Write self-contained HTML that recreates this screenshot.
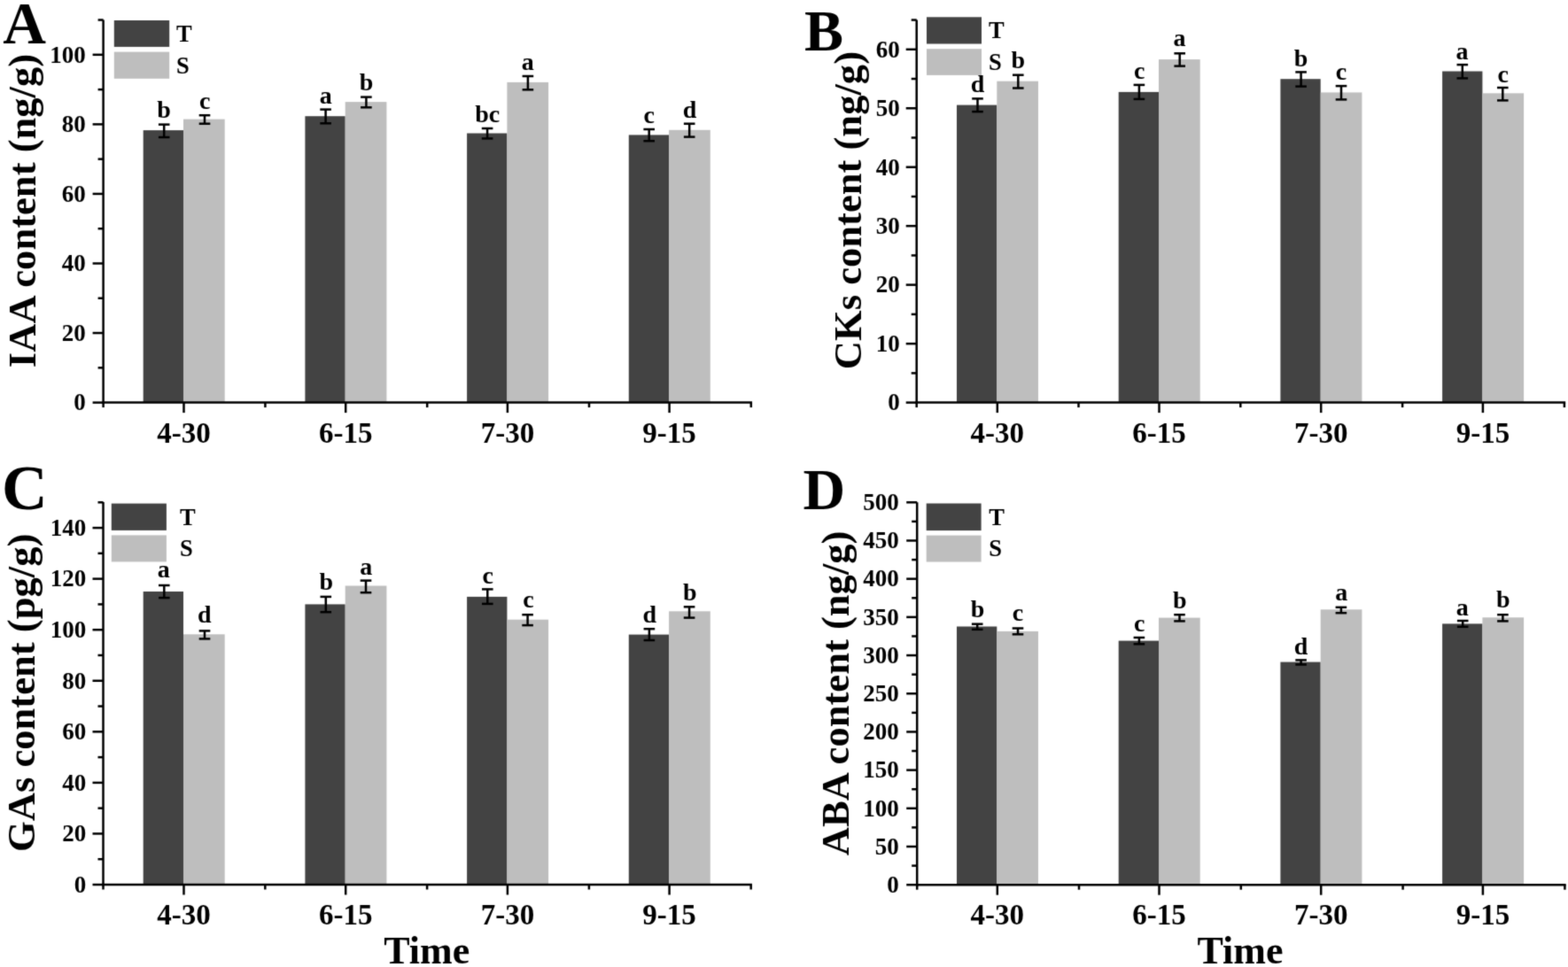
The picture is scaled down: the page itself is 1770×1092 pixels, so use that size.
<!DOCTYPE html><html><head><meta charset="utf-8"><title>Hormone content</title><style>html,body{margin:0;padding:0;background:#fff;overflow:hidden;width:1770px;height:1092px;}svg{display:block;}text{font-family:'Liberation Serif', serif;font-weight:bold;fill:#000;}</style></head><body>
<svg width="1770" height="1092" viewBox="0 0 1770 1092">
<defs><filter id="soft" x="0" y="0" width="1770" height="1092" filterUnits="userSpaceOnUse" color-interpolation-filters="sRGB"><feConvolveMatrix order="3" kernelMatrix="0.01917 0.10012 0.01917 0.10012 0.52283 0.10012 0.01917 0.10012 0.01917" edgeMode="duplicate"/></filter></defs>
<g filter="url(#soft)">
<rect width="1770" height="1092" fill="#fff"/>
<rect x="161.7" y="147.1" width="45.3" height="307.5" fill="#434343"/>
<rect x="207" y="134.6" width="46.7" height="320" fill="#bebebe"/>
<rect x="344.4" y="131.2" width="45.3" height="323.4" fill="#434343"/>
<rect x="389.7" y="115.1" width="46.7" height="339.5" fill="#bebebe"/>
<rect x="527.1" y="150.5" width="45.3" height="304.1" fill="#434343"/>
<rect x="572.4" y="92.9" width="46.7" height="361.7" fill="#bebebe"/>
<rect x="709.8" y="152.4" width="45.3" height="302.2" fill="#434343"/>
<rect x="755.1" y="146.8" width="46.7" height="307.8" fill="#bebebe"/>
<rect x="128.8" y="23" width="62.4" height="29.9" fill="#434343"/>
<rect x="128.8" y="58.6" width="62.4" height="30.2" fill="#bebebe"/>
<g stroke="#000" fill="none">
<line x1="185.2" y1="140.6" x2="185.2" y2="155" stroke-width="2.5" stroke-linecap="butt"/>
<line x1="178.9" y1="140.6" x2="191.5" y2="140.6" stroke-width="2.5" stroke-linecap="butt"/>
<line x1="178.9" y1="155" x2="191.5" y2="155" stroke-width="2.5" stroke-linecap="butt"/>
<line x1="231" y1="130.2" x2="231" y2="139.7" stroke-width="2.5" stroke-linecap="butt"/>
<line x1="224.7" y1="130.2" x2="237.3" y2="130.2" stroke-width="2.5" stroke-linecap="butt"/>
<line x1="224.7" y1="139.7" x2="237.3" y2="139.7" stroke-width="2.5" stroke-linecap="butt"/>
<line x1="367.6" y1="123.6" x2="367.6" y2="139.3" stroke-width="2.5" stroke-linecap="butt"/>
<line x1="361.3" y1="123.6" x2="373.9" y2="123.6" stroke-width="2.5" stroke-linecap="butt"/>
<line x1="361.3" y1="139.3" x2="373.9" y2="139.3" stroke-width="2.5" stroke-linecap="butt"/>
<line x1="413.4" y1="109.6" x2="413.4" y2="121.3" stroke-width="2.5" stroke-linecap="butt"/>
<line x1="407.1" y1="109.6" x2="419.7" y2="109.6" stroke-width="2.5" stroke-linecap="butt"/>
<line x1="407.1" y1="121.3" x2="419.7" y2="121.3" stroke-width="2.5" stroke-linecap="butt"/>
<line x1="550.1" y1="145" x2="550.1" y2="156.4" stroke-width="2.5" stroke-linecap="butt"/>
<line x1="543.8" y1="145" x2="556.4" y2="145" stroke-width="2.5" stroke-linecap="butt"/>
<line x1="543.8" y1="156.4" x2="556.4" y2="156.4" stroke-width="2.5" stroke-linecap="butt"/>
<line x1="595.9" y1="86" x2="595.9" y2="101.3" stroke-width="2.5" stroke-linecap="butt"/>
<line x1="589.6" y1="86" x2="602.2" y2="86" stroke-width="2.5" stroke-linecap="butt"/>
<line x1="589.6" y1="101.3" x2="602.2" y2="101.3" stroke-width="2.5" stroke-linecap="butt"/>
<line x1="732.7" y1="146" x2="732.7" y2="159.2" stroke-width="2.5" stroke-linecap="butt"/>
<line x1="726.4" y1="146" x2="739" y2="146" stroke-width="2.5" stroke-linecap="butt"/>
<line x1="726.4" y1="159.2" x2="739" y2="159.2" stroke-width="2.5" stroke-linecap="butt"/>
<line x1="778.2" y1="139.7" x2="778.2" y2="154.6" stroke-width="2.5" stroke-linecap="butt"/>
<line x1="771.9" y1="139.7" x2="784.5" y2="139.7" stroke-width="2.5" stroke-linecap="butt"/>
<line x1="771.9" y1="154.6" x2="784.5" y2="154.6" stroke-width="2.5" stroke-linecap="butt"/>
<line x1="116.6" y1="22.5" x2="116.6" y2="455.85" stroke-width="2.5" stroke-linecap="butt"/>
<line x1="115.35" y1="454.6" x2="849.05" y2="454.6" stroke-width="2.5" stroke-linecap="butt"/>
<line x1="104.6" y1="454.6" x2="116.6" y2="454.6" stroke-width="2.5" stroke-linecap="butt"/>
<line x1="110.6" y1="415.32" x2="116.6" y2="415.32" stroke-width="2.5" stroke-linecap="butt"/>
<line x1="104.6" y1="376.04" x2="116.6" y2="376.04" stroke-width="2.5" stroke-linecap="butt"/>
<line x1="110.6" y1="336.76" x2="116.6" y2="336.76" stroke-width="2.5" stroke-linecap="butt"/>
<line x1="104.6" y1="297.48" x2="116.6" y2="297.48" stroke-width="2.5" stroke-linecap="butt"/>
<line x1="110.6" y1="258.2" x2="116.6" y2="258.2" stroke-width="2.5" stroke-linecap="butt"/>
<line x1="104.6" y1="218.92" x2="116.6" y2="218.92" stroke-width="2.5" stroke-linecap="butt"/>
<line x1="110.6" y1="179.64" x2="116.6" y2="179.64" stroke-width="2.5" stroke-linecap="butt"/>
<line x1="104.6" y1="140.36" x2="116.6" y2="140.36" stroke-width="2.5" stroke-linecap="butt"/>
<line x1="110.6" y1="101.08" x2="116.6" y2="101.08" stroke-width="2.5" stroke-linecap="butt"/>
<line x1="104.6" y1="61.8" x2="116.6" y2="61.8" stroke-width="2.5" stroke-linecap="butt"/>
<line x1="110.6" y1="22.52" x2="116.6" y2="22.52" stroke-width="2.5" stroke-linecap="butt"/>
<line x1="207.5" y1="454.6" x2="207.5" y2="466.1" stroke-width="2.5" stroke-linecap="butt"/>
<line x1="390.2" y1="454.6" x2="390.2" y2="466.1" stroke-width="2.5" stroke-linecap="butt"/>
<line x1="572.9" y1="454.6" x2="572.9" y2="466.1" stroke-width="2.5" stroke-linecap="butt"/>
<line x1="755.6" y1="454.6" x2="755.6" y2="466.1" stroke-width="2.5" stroke-linecap="butt"/>
<line x1="116.6" y1="454.6" x2="116.6" y2="460.1" stroke-width="2.5" stroke-linecap="butt"/>
<line x1="299.4" y1="454.6" x2="299.4" y2="460.1" stroke-width="2.5" stroke-linecap="butt"/>
<line x1="482.2" y1="454.6" x2="482.2" y2="460.1" stroke-width="2.5" stroke-linecap="butt"/>
<line x1="665" y1="454.6" x2="665" y2="460.1" stroke-width="2.5" stroke-linecap="butt"/>
<line x1="847.8" y1="454.6" x2="847.8" y2="460.1" stroke-width="2.5" stroke-linecap="butt"/>
</g>
<text x="96.7" y="463.4" font-size="27" text-anchor="end">0</text>
<text x="96.7" y="384.84" font-size="27" text-anchor="end">20</text>
<text x="96.7" y="306.28" font-size="27" text-anchor="end">40</text>
<text x="96.7" y="227.72" font-size="27" text-anchor="end">60</text>
<text x="96.7" y="149.16" font-size="27" text-anchor="end">80</text>
<text x="96.7" y="70.6" font-size="27" text-anchor="end">100</text>
<text x="207.5" y="500.1" font-size="33" text-anchor="middle">4-30</text>
<text x="390.2" y="500.1" font-size="33" text-anchor="middle">6-15</text>
<text x="572.9" y="500.1" font-size="33" text-anchor="middle">7-30</text>
<text x="755.6" y="500.1" font-size="33" text-anchor="middle">9-15</text>
<text x="184.95" y="132.6" font-size="28" text-anchor="middle">b</text>
<text x="231.2" y="123.1" font-size="28" text-anchor="middle">c</text>
<text x="367.7" y="116.6" font-size="28" text-anchor="middle">a</text>
<text x="413.55" y="102.4" font-size="28" text-anchor="middle">b</text>
<text x="550.25" y="138.4" font-size="28" text-anchor="middle">bc</text>
<text x="595.7" y="78.9" font-size="28" text-anchor="middle">a</text>
<text x="732.8" y="138.7" font-size="28" text-anchor="middle">c</text>
<text x="778.45" y="133.2" font-size="28" text-anchor="middle">d</text>
<text x="199" y="46.75" font-size="26.5" text-anchor="start">T</text>
<text x="199" y="82.5" font-size="26.5" text-anchor="start">S</text>
<text x="39.5" y="238" font-size="44.6" text-anchor="middle" transform="rotate(-90 39.5 238)" dy="0">IAA content (ng/g)</text>
<text x="3.2" y="48.8" font-size="67.5" text-anchor="start">A</text>
<rect x="1080" y="118.6" width="45.3" height="336" fill="#434343"/>
<rect x="1125.3" y="91.7" width="46.7" height="362.9" fill="#bebebe"/>
<rect x="1262.7" y="103.9" width="45.3" height="350.7" fill="#434343"/>
<rect x="1308" y="67.1" width="46.7" height="387.5" fill="#bebebe"/>
<rect x="1445.4" y="89.2" width="45.3" height="365.4" fill="#434343"/>
<rect x="1490.7" y="104.4" width="46.7" height="350.2" fill="#bebebe"/>
<rect x="1628.1" y="80.5" width="45.3" height="374.1" fill="#434343"/>
<rect x="1673.4" y="105.3" width="46.7" height="349.3" fill="#bebebe"/>
<rect x="1046" y="19.3" width="62" height="30.2" fill="#434343"/>
<rect x="1046" y="55.2" width="62" height="29.7" fill="#bebebe"/>
<g stroke="#000" fill="none">
<line x1="1103.5" y1="111.4" x2="1103.5" y2="126.1" stroke-width="2.5" stroke-linecap="butt"/>
<line x1="1097.2" y1="111.4" x2="1109.8" y2="111.4" stroke-width="2.5" stroke-linecap="butt"/>
<line x1="1097.2" y1="126.1" x2="1109.8" y2="126.1" stroke-width="2.5" stroke-linecap="butt"/>
<line x1="1149.3" y1="84.7" x2="1149.3" y2="99.5" stroke-width="2.5" stroke-linecap="butt"/>
<line x1="1143" y1="84.7" x2="1155.6" y2="84.7" stroke-width="2.5" stroke-linecap="butt"/>
<line x1="1143" y1="99.5" x2="1155.6" y2="99.5" stroke-width="2.5" stroke-linecap="butt"/>
<line x1="1285.9" y1="95.9" x2="1285.9" y2="111.9" stroke-width="2.5" stroke-linecap="butt"/>
<line x1="1279.6" y1="95.9" x2="1292.2" y2="95.9" stroke-width="2.5" stroke-linecap="butt"/>
<line x1="1279.6" y1="111.9" x2="1292.2" y2="111.9" stroke-width="2.5" stroke-linecap="butt"/>
<line x1="1331.7" y1="60.3" x2="1331.7" y2="74.6" stroke-width="2.5" stroke-linecap="butt"/>
<line x1="1325.4" y1="60.3" x2="1338" y2="60.3" stroke-width="2.5" stroke-linecap="butt"/>
<line x1="1325.4" y1="74.6" x2="1338" y2="74.6" stroke-width="2.5" stroke-linecap="butt"/>
<line x1="1468.6" y1="81.4" x2="1468.6" y2="97.6" stroke-width="2.5" stroke-linecap="butt"/>
<line x1="1462.3" y1="81.4" x2="1474.9" y2="81.4" stroke-width="2.5" stroke-linecap="butt"/>
<line x1="1462.3" y1="97.6" x2="1474.9" y2="97.6" stroke-width="2.5" stroke-linecap="butt"/>
<line x1="1514" y1="97.1" x2="1514" y2="112.4" stroke-width="2.5" stroke-linecap="butt"/>
<line x1="1507.7" y1="97.1" x2="1520.3" y2="97.1" stroke-width="2.5" stroke-linecap="butt"/>
<line x1="1507.7" y1="112.4" x2="1520.3" y2="112.4" stroke-width="2.5" stroke-linecap="butt"/>
<line x1="1650.8" y1="73.1" x2="1650.8" y2="88.4" stroke-width="2.5" stroke-linecap="butt"/>
<line x1="1644.5" y1="73.1" x2="1657.1" y2="73.1" stroke-width="2.5" stroke-linecap="butt"/>
<line x1="1644.5" y1="88.4" x2="1657.1" y2="88.4" stroke-width="2.5" stroke-linecap="butt"/>
<line x1="1696.3" y1="99" x2="1696.3" y2="113.4" stroke-width="2.5" stroke-linecap="butt"/>
<line x1="1690" y1="99" x2="1702.6" y2="99" stroke-width="2.5" stroke-linecap="butt"/>
<line x1="1690" y1="113.4" x2="1702.6" y2="113.4" stroke-width="2.5" stroke-linecap="butt"/>
<line x1="1034.7" y1="22.4" x2="1034.7" y2="455.85" stroke-width="2.5" stroke-linecap="butt"/>
<line x1="1033.45" y1="454.6" x2="1767.15" y2="454.6" stroke-width="2.5" stroke-linecap="butt"/>
<line x1="1022.7" y1="454.6" x2="1034.7" y2="454.6" stroke-width="2.5" stroke-linecap="butt"/>
<line x1="1028.7" y1="421.37" x2="1034.7" y2="421.37" stroke-width="2.5" stroke-linecap="butt"/>
<line x1="1022.7" y1="388.13" x2="1034.7" y2="388.13" stroke-width="2.5" stroke-linecap="butt"/>
<line x1="1028.7" y1="354.9" x2="1034.7" y2="354.9" stroke-width="2.5" stroke-linecap="butt"/>
<line x1="1022.7" y1="321.66" x2="1034.7" y2="321.66" stroke-width="2.5" stroke-linecap="butt"/>
<line x1="1028.7" y1="288.43" x2="1034.7" y2="288.43" stroke-width="2.5" stroke-linecap="butt"/>
<line x1="1022.7" y1="255.19" x2="1034.7" y2="255.19" stroke-width="2.5" stroke-linecap="butt"/>
<line x1="1028.7" y1="221.96" x2="1034.7" y2="221.96" stroke-width="2.5" stroke-linecap="butt"/>
<line x1="1022.7" y1="188.72" x2="1034.7" y2="188.72" stroke-width="2.5" stroke-linecap="butt"/>
<line x1="1028.7" y1="155.49" x2="1034.7" y2="155.49" stroke-width="2.5" stroke-linecap="butt"/>
<line x1="1022.7" y1="122.25" x2="1034.7" y2="122.25" stroke-width="2.5" stroke-linecap="butt"/>
<line x1="1028.7" y1="89.01" x2="1034.7" y2="89.01" stroke-width="2.5" stroke-linecap="butt"/>
<line x1="1022.7" y1="55.78" x2="1034.7" y2="55.78" stroke-width="2.5" stroke-linecap="butt"/>
<line x1="1028.7" y1="22.55" x2="1034.7" y2="22.55" stroke-width="2.5" stroke-linecap="butt"/>
<line x1="1125.8" y1="454.6" x2="1125.8" y2="466.1" stroke-width="2.5" stroke-linecap="butt"/>
<line x1="1308.5" y1="454.6" x2="1308.5" y2="466.1" stroke-width="2.5" stroke-linecap="butt"/>
<line x1="1491.2" y1="454.6" x2="1491.2" y2="466.1" stroke-width="2.5" stroke-linecap="butt"/>
<line x1="1673.9" y1="454.6" x2="1673.9" y2="466.1" stroke-width="2.5" stroke-linecap="butt"/>
<line x1="1034.7" y1="454.6" x2="1034.7" y2="460.1" stroke-width="2.5" stroke-linecap="butt"/>
<line x1="1217.5" y1="454.6" x2="1217.5" y2="460.1" stroke-width="2.5" stroke-linecap="butt"/>
<line x1="1400.3" y1="454.6" x2="1400.3" y2="460.1" stroke-width="2.5" stroke-linecap="butt"/>
<line x1="1583.1" y1="454.6" x2="1583.1" y2="460.1" stroke-width="2.5" stroke-linecap="butt"/>
<line x1="1765.9" y1="454.6" x2="1765.9" y2="460.1" stroke-width="2.5" stroke-linecap="butt"/>
</g>
<text x="1015.7" y="463.4" font-size="27" text-anchor="end">0</text>
<text x="1015.7" y="396.93" font-size="27" text-anchor="end">10</text>
<text x="1015.7" y="330.46" font-size="27" text-anchor="end">20</text>
<text x="1015.7" y="263.99" font-size="27" text-anchor="end">30</text>
<text x="1015.7" y="197.52" font-size="27" text-anchor="end">40</text>
<text x="1015.7" y="131.05" font-size="27" text-anchor="end">50</text>
<text x="1015.7" y="64.58" font-size="27" text-anchor="end">60</text>
<text x="1125.8" y="500.1" font-size="33" text-anchor="middle">4-30</text>
<text x="1308.5" y="500.1" font-size="33" text-anchor="middle">6-15</text>
<text x="1491.2" y="500.1" font-size="33" text-anchor="middle">7-30</text>
<text x="1673.9" y="500.1" font-size="33" text-anchor="middle">9-15</text>
<text x="1103.5" y="104" font-size="28" text-anchor="middle">d</text>
<text x="1149.3" y="77.4" font-size="28" text-anchor="middle">b</text>
<text x="1286.1" y="88.9" font-size="28" text-anchor="middle">c</text>
<text x="1331.5" y="52.4" font-size="28" text-anchor="middle">a</text>
<text x="1468.65" y="74.5" font-size="28" text-anchor="middle">b</text>
<text x="1513.9" y="89.7" font-size="28" text-anchor="middle">c</text>
<text x="1650.6" y="66.5" font-size="28" text-anchor="middle">a</text>
<text x="1696.75" y="92.5" font-size="28" text-anchor="middle">c</text>
<text x="1116" y="43.2" font-size="26.5" text-anchor="start">T</text>
<text x="1116" y="78.85" font-size="26.5" text-anchor="start">S</text>
<text x="972" y="237.6" font-size="44.6" text-anchor="middle" transform="rotate(-90 972 237.6)" dy="0">CKs content (ng/g)</text>
<text x="908" y="57.3" font-size="66" text-anchor="start">B</text>
<rect x="161.7" y="668" width="45.3" height="331" fill="#434343"/>
<rect x="207" y="716.3" width="46.7" height="282.7" fill="#bebebe"/>
<rect x="344.4" y="682.4" width="45.3" height="316.6" fill="#434343"/>
<rect x="389.7" y="661.5" width="46.7" height="337.5" fill="#bebebe"/>
<rect x="527.1" y="673.9" width="45.3" height="325.1" fill="#434343"/>
<rect x="572.4" y="699.7" width="46.7" height="299.3" fill="#bebebe"/>
<rect x="709.8" y="716.6" width="45.3" height="282.4" fill="#434343"/>
<rect x="755.1" y="690.3" width="46.7" height="308.7" fill="#bebebe"/>
<rect x="125.8" y="568.6" width="62.1" height="30.3" fill="#434343"/>
<rect x="125.8" y="604.4" width="62.1" height="30" fill="#bebebe"/>
<g stroke="#000" fill="none">
<line x1="185.3" y1="661" x2="185.3" y2="675.1" stroke-width="2.5" stroke-linecap="butt"/>
<line x1="179" y1="661" x2="191.6" y2="661" stroke-width="2.5" stroke-linecap="butt"/>
<line x1="179" y1="675.1" x2="191.6" y2="675.1" stroke-width="2.5" stroke-linecap="butt"/>
<line x1="231" y1="712.4" x2="231" y2="721.4" stroke-width="2.5" stroke-linecap="butt"/>
<line x1="224.7" y1="712.4" x2="237.3" y2="712.4" stroke-width="2.5" stroke-linecap="butt"/>
<line x1="224.7" y1="721.4" x2="237.3" y2="721.4" stroke-width="2.5" stroke-linecap="butt"/>
<line x1="367.8" y1="673.9" x2="367.8" y2="691.2" stroke-width="2.5" stroke-linecap="butt"/>
<line x1="361.5" y1="673.9" x2="374.1" y2="673.9" stroke-width="2.5" stroke-linecap="butt"/>
<line x1="361.5" y1="691.2" x2="374.1" y2="691.2" stroke-width="2.5" stroke-linecap="butt"/>
<line x1="413" y1="655.6" x2="413" y2="669.2" stroke-width="2.5" stroke-linecap="butt"/>
<line x1="406.7" y1="655.6" x2="419.3" y2="655.6" stroke-width="2.5" stroke-linecap="butt"/>
<line x1="406.7" y1="669.2" x2="419.3" y2="669.2" stroke-width="2.5" stroke-linecap="butt"/>
<line x1="550.3" y1="665.4" x2="550.3" y2="681.9" stroke-width="2.5" stroke-linecap="butt"/>
<line x1="544" y1="665.4" x2="556.6" y2="665.4" stroke-width="2.5" stroke-linecap="butt"/>
<line x1="544" y1="681.9" x2="556.6" y2="681.9" stroke-width="2.5" stroke-linecap="butt"/>
<line x1="595.6" y1="694.2" x2="595.6" y2="706.1" stroke-width="2.5" stroke-linecap="butt"/>
<line x1="589.3" y1="694.2" x2="601.9" y2="694.2" stroke-width="2.5" stroke-linecap="butt"/>
<line x1="589.3" y1="706.1" x2="601.9" y2="706.1" stroke-width="2.5" stroke-linecap="butt"/>
<line x1="732.9" y1="710.2" x2="732.9" y2="723" stroke-width="2.5" stroke-linecap="butt"/>
<line x1="726.6" y1="710.2" x2="739.2" y2="710.2" stroke-width="2.5" stroke-linecap="butt"/>
<line x1="726.6" y1="723" x2="739.2" y2="723" stroke-width="2.5" stroke-linecap="butt"/>
<line x1="778.1" y1="685.3" x2="778.1" y2="697.6" stroke-width="2.5" stroke-linecap="butt"/>
<line x1="771.8" y1="685.3" x2="784.4" y2="685.3" stroke-width="2.5" stroke-linecap="butt"/>
<line x1="771.8" y1="697.6" x2="784.4" y2="697.6" stroke-width="2.5" stroke-linecap="butt"/>
<line x1="116.5" y1="567" x2="116.5" y2="1000.25" stroke-width="2.5" stroke-linecap="butt"/>
<line x1="115.25" y1="999" x2="848.95" y2="999" stroke-width="2.5" stroke-linecap="butt"/>
<line x1="104.5" y1="999" x2="116.5" y2="999" stroke-width="2.5" stroke-linecap="butt"/>
<line x1="110.5" y1="970.22" x2="116.5" y2="970.22" stroke-width="2.5" stroke-linecap="butt"/>
<line x1="104.5" y1="941.44" x2="116.5" y2="941.44" stroke-width="2.5" stroke-linecap="butt"/>
<line x1="110.5" y1="912.66" x2="116.5" y2="912.66" stroke-width="2.5" stroke-linecap="butt"/>
<line x1="104.5" y1="883.88" x2="116.5" y2="883.88" stroke-width="2.5" stroke-linecap="butt"/>
<line x1="110.5" y1="855.1" x2="116.5" y2="855.1" stroke-width="2.5" stroke-linecap="butt"/>
<line x1="104.5" y1="826.32" x2="116.5" y2="826.32" stroke-width="2.5" stroke-linecap="butt"/>
<line x1="110.5" y1="797.54" x2="116.5" y2="797.54" stroke-width="2.5" stroke-linecap="butt"/>
<line x1="104.5" y1="768.76" x2="116.5" y2="768.76" stroke-width="2.5" stroke-linecap="butt"/>
<line x1="110.5" y1="739.98" x2="116.5" y2="739.98" stroke-width="2.5" stroke-linecap="butt"/>
<line x1="104.5" y1="711.2" x2="116.5" y2="711.2" stroke-width="2.5" stroke-linecap="butt"/>
<line x1="110.5" y1="682.42" x2="116.5" y2="682.42" stroke-width="2.5" stroke-linecap="butt"/>
<line x1="104.5" y1="653.64" x2="116.5" y2="653.64" stroke-width="2.5" stroke-linecap="butt"/>
<line x1="110.5" y1="624.86" x2="116.5" y2="624.86" stroke-width="2.5" stroke-linecap="butt"/>
<line x1="104.5" y1="596.08" x2="116.5" y2="596.08" stroke-width="2.5" stroke-linecap="butt"/>
<line x1="110.5" y1="567.3" x2="116.5" y2="567.3" stroke-width="2.5" stroke-linecap="butt"/>
<line x1="207.5" y1="999" x2="207.5" y2="1010.5" stroke-width="2.5" stroke-linecap="butt"/>
<line x1="390.2" y1="999" x2="390.2" y2="1010.5" stroke-width="2.5" stroke-linecap="butt"/>
<line x1="572.9" y1="999" x2="572.9" y2="1010.5" stroke-width="2.5" stroke-linecap="butt"/>
<line x1="755.6" y1="999" x2="755.6" y2="1010.5" stroke-width="2.5" stroke-linecap="butt"/>
<line x1="116.5" y1="999" x2="116.5" y2="1004.5" stroke-width="2.5" stroke-linecap="butt"/>
<line x1="299.3" y1="999" x2="299.3" y2="1004.5" stroke-width="2.5" stroke-linecap="butt"/>
<line x1="482.1" y1="999" x2="482.1" y2="1004.5" stroke-width="2.5" stroke-linecap="butt"/>
<line x1="664.9" y1="999" x2="664.9" y2="1004.5" stroke-width="2.5" stroke-linecap="butt"/>
<line x1="847.7" y1="999" x2="847.7" y2="1004.5" stroke-width="2.5" stroke-linecap="butt"/>
</g>
<text x="97.2" y="1007.8" font-size="27" text-anchor="end">0</text>
<text x="97.2" y="950.24" font-size="27" text-anchor="end">20</text>
<text x="97.2" y="892.68" font-size="27" text-anchor="end">40</text>
<text x="97.2" y="835.12" font-size="27" text-anchor="end">60</text>
<text x="97.2" y="777.56" font-size="27" text-anchor="end">80</text>
<text x="97.2" y="720" font-size="27" text-anchor="end">100</text>
<text x="97.2" y="662.44" font-size="27" text-anchor="end">120</text>
<text x="97.2" y="604.88" font-size="27" text-anchor="end">140</text>
<text x="207.5" y="1043.7" font-size="33" text-anchor="middle">4-30</text>
<text x="390.2" y="1043.7" font-size="33" text-anchor="middle">6-15</text>
<text x="572.9" y="1043.7" font-size="33" text-anchor="middle">7-30</text>
<text x="755.6" y="1043.7" font-size="33" text-anchor="middle">9-15</text>
<text x="184.75" y="652.4" font-size="28" text-anchor="middle">a</text>
<text x="230.9" y="703.3" font-size="28" text-anchor="middle">d</text>
<text x="368.2" y="666" font-size="28" text-anchor="middle">b</text>
<text x="413.15" y="648.6" font-size="28" text-anchor="middle">a</text>
<text x="550.65" y="658.7" font-size="28" text-anchor="middle">c</text>
<text x="596.45" y="686.3" font-size="28" text-anchor="middle">c</text>
<text x="733.2" y="702.8" font-size="28" text-anchor="middle">d</text>
<text x="778.9" y="678.4" font-size="28" text-anchor="middle">b</text>
<text x="203" y="592.55" font-size="26.5" text-anchor="start">T</text>
<text x="203" y="628.2" font-size="26.5" text-anchor="start">S</text>
<text x="39.5" y="782.3" font-size="44.6" text-anchor="middle" transform="rotate(-90 39.5 782.3)" dy="0">GAs content (pg/g)</text>
<text x="2" y="575.2" font-size="71.5" text-anchor="start">C</text>
<rect x="1080" y="707.5" width="45.3" height="291.7" fill="#434343"/>
<rect x="1125.3" y="712.9" width="46.7" height="286.3" fill="#bebebe"/>
<rect x="1262.7" y="723.6" width="45.3" height="275.6" fill="#434343"/>
<rect x="1308" y="697.6" width="46.7" height="301.6" fill="#bebebe"/>
<rect x="1445.4" y="747.6" width="45.3" height="251.6" fill="#434343"/>
<rect x="1490.7" y="688.3" width="46.7" height="310.9" fill="#bebebe"/>
<rect x="1628.1" y="704.4" width="45.3" height="294.8" fill="#434343"/>
<rect x="1673.4" y="697.3" width="46.7" height="301.9" fill="#bebebe"/>
<rect x="1045.7" y="568.5" width="61.9" height="30.6" fill="#434343"/>
<rect x="1045.7" y="604.6" width="61.9" height="29.9" fill="#bebebe"/>
<g stroke="#000" fill="none">
<line x1="1103.2" y1="704.7" x2="1103.2" y2="710.8" stroke-width="2.5" stroke-linecap="butt"/>
<line x1="1096.9" y1="704.7" x2="1109.5" y2="704.7" stroke-width="2.5" stroke-linecap="butt"/>
<line x1="1096.9" y1="710.8" x2="1109.5" y2="710.8" stroke-width="2.5" stroke-linecap="butt"/>
<line x1="1149" y1="709.5" x2="1149" y2="716.3" stroke-width="2.5" stroke-linecap="butt"/>
<line x1="1142.7" y1="709.5" x2="1155.3" y2="709.5" stroke-width="2.5" stroke-linecap="butt"/>
<line x1="1142.7" y1="716.3" x2="1155.3" y2="716.3" stroke-width="2.5" stroke-linecap="butt"/>
<line x1="1285.9" y1="720" x2="1285.9" y2="727.3" stroke-width="2.5" stroke-linecap="butt"/>
<line x1="1279.6" y1="720" x2="1292.2" y2="720" stroke-width="2.5" stroke-linecap="butt"/>
<line x1="1279.6" y1="727.3" x2="1292.2" y2="727.3" stroke-width="2.5" stroke-linecap="butt"/>
<line x1="1331.5" y1="694.2" x2="1331.5" y2="701.4" stroke-width="2.5" stroke-linecap="butt"/>
<line x1="1325.2" y1="694.2" x2="1337.8" y2="694.2" stroke-width="2.5" stroke-linecap="butt"/>
<line x1="1325.2" y1="701.4" x2="1337.8" y2="701.4" stroke-width="2.5" stroke-linecap="butt"/>
<line x1="1468.6" y1="745.4" x2="1468.6" y2="750.5" stroke-width="2.5" stroke-linecap="butt"/>
<line x1="1462.3" y1="745.4" x2="1474.9" y2="745.4" stroke-width="2.5" stroke-linecap="butt"/>
<line x1="1462.3" y1="750.5" x2="1474.9" y2="750.5" stroke-width="2.5" stroke-linecap="butt"/>
<line x1="1513.9" y1="685.8" x2="1513.9" y2="692.2" stroke-width="2.5" stroke-linecap="butt"/>
<line x1="1507.6" y1="685.8" x2="1520.2" y2="685.8" stroke-width="2.5" stroke-linecap="butt"/>
<line x1="1507.6" y1="692.2" x2="1520.2" y2="692.2" stroke-width="2.5" stroke-linecap="butt"/>
<line x1="1651.2" y1="701" x2="1651.2" y2="707.8" stroke-width="2.5" stroke-linecap="butt"/>
<line x1="1644.9" y1="701" x2="1657.5" y2="701" stroke-width="2.5" stroke-linecap="butt"/>
<line x1="1644.9" y1="707.8" x2="1657.5" y2="707.8" stroke-width="2.5" stroke-linecap="butt"/>
<line x1="1696.4" y1="694.2" x2="1696.4" y2="701.4" stroke-width="2.5" stroke-linecap="butt"/>
<line x1="1690.1" y1="694.2" x2="1702.7" y2="694.2" stroke-width="2.5" stroke-linecap="butt"/>
<line x1="1690.1" y1="701.4" x2="1702.7" y2="701.4" stroke-width="2.5" stroke-linecap="butt"/>
<line x1="1035.2" y1="567.3" x2="1035.2" y2="1000.45" stroke-width="2.5" stroke-linecap="butt"/>
<line x1="1033.95" y1="999.2" x2="1767.65" y2="999.2" stroke-width="2.5" stroke-linecap="butt"/>
<line x1="1023.2" y1="999.2" x2="1035.2" y2="999.2" stroke-width="2.5" stroke-linecap="butt"/>
<line x1="1029.2" y1="977.61" x2="1035.2" y2="977.61" stroke-width="2.5" stroke-linecap="butt"/>
<line x1="1023.2" y1="956.01" x2="1035.2" y2="956.01" stroke-width="2.5" stroke-linecap="butt"/>
<line x1="1029.2" y1="934.42" x2="1035.2" y2="934.42" stroke-width="2.5" stroke-linecap="butt"/>
<line x1="1023.2" y1="912.82" x2="1035.2" y2="912.82" stroke-width="2.5" stroke-linecap="butt"/>
<line x1="1029.2" y1="891.23" x2="1035.2" y2="891.23" stroke-width="2.5" stroke-linecap="butt"/>
<line x1="1023.2" y1="869.63" x2="1035.2" y2="869.63" stroke-width="2.5" stroke-linecap="butt"/>
<line x1="1029.2" y1="848.04" x2="1035.2" y2="848.04" stroke-width="2.5" stroke-linecap="butt"/>
<line x1="1023.2" y1="826.44" x2="1035.2" y2="826.44" stroke-width="2.5" stroke-linecap="butt"/>
<line x1="1029.2" y1="804.85" x2="1035.2" y2="804.85" stroke-width="2.5" stroke-linecap="butt"/>
<line x1="1023.2" y1="783.25" x2="1035.2" y2="783.25" stroke-width="2.5" stroke-linecap="butt"/>
<line x1="1029.2" y1="761.65" x2="1035.2" y2="761.65" stroke-width="2.5" stroke-linecap="butt"/>
<line x1="1023.2" y1="740.06" x2="1035.2" y2="740.06" stroke-width="2.5" stroke-linecap="butt"/>
<line x1="1029.2" y1="718.47" x2="1035.2" y2="718.47" stroke-width="2.5" stroke-linecap="butt"/>
<line x1="1023.2" y1="696.87" x2="1035.2" y2="696.87" stroke-width="2.5" stroke-linecap="butt"/>
<line x1="1029.2" y1="675.28" x2="1035.2" y2="675.28" stroke-width="2.5" stroke-linecap="butt"/>
<line x1="1023.2" y1="653.68" x2="1035.2" y2="653.68" stroke-width="2.5" stroke-linecap="butt"/>
<line x1="1029.2" y1="632.09" x2="1035.2" y2="632.09" stroke-width="2.5" stroke-linecap="butt"/>
<line x1="1023.2" y1="610.49" x2="1035.2" y2="610.49" stroke-width="2.5" stroke-linecap="butt"/>
<line x1="1029.2" y1="588.89" x2="1035.2" y2="588.89" stroke-width="2.5" stroke-linecap="butt"/>
<line x1="1023.2" y1="567.3" x2="1035.2" y2="567.3" stroke-width="2.5" stroke-linecap="butt"/>
<line x1="1125.8" y1="999.2" x2="1125.8" y2="1010.7" stroke-width="2.5" stroke-linecap="butt"/>
<line x1="1308.5" y1="999.2" x2="1308.5" y2="1010.7" stroke-width="2.5" stroke-linecap="butt"/>
<line x1="1491.2" y1="999.2" x2="1491.2" y2="1010.7" stroke-width="2.5" stroke-linecap="butt"/>
<line x1="1673.9" y1="999.2" x2="1673.9" y2="1010.7" stroke-width="2.5" stroke-linecap="butt"/>
<line x1="1035.2" y1="999.2" x2="1035.2" y2="1004.7" stroke-width="2.5" stroke-linecap="butt"/>
<line x1="1218" y1="999.2" x2="1218" y2="1004.7" stroke-width="2.5" stroke-linecap="butt"/>
<line x1="1400.8" y1="999.2" x2="1400.8" y2="1004.7" stroke-width="2.5" stroke-linecap="butt"/>
<line x1="1583.6" y1="999.2" x2="1583.6" y2="1004.7" stroke-width="2.5" stroke-linecap="butt"/>
<line x1="1766.4" y1="999.2" x2="1766.4" y2="1004.7" stroke-width="2.5" stroke-linecap="butt"/>
</g>
<text x="1014.7" y="1008" font-size="27" text-anchor="end">0</text>
<text x="1014.7" y="964.81" font-size="27" text-anchor="end">50</text>
<text x="1014.7" y="921.62" font-size="27" text-anchor="end">100</text>
<text x="1014.7" y="878.43" font-size="27" text-anchor="end">150</text>
<text x="1014.7" y="835.24" font-size="27" text-anchor="end">200</text>
<text x="1014.7" y="792.05" font-size="27" text-anchor="end">250</text>
<text x="1014.7" y="748.86" font-size="27" text-anchor="end">300</text>
<text x="1014.7" y="705.67" font-size="27" text-anchor="end">350</text>
<text x="1014.7" y="662.48" font-size="27" text-anchor="end">400</text>
<text x="1014.7" y="619.29" font-size="27" text-anchor="end">450</text>
<text x="1014.7" y="576.1" font-size="27" text-anchor="end">500</text>
<text x="1125.8" y="1043.9" font-size="33" text-anchor="middle">4-30</text>
<text x="1308.5" y="1043.9" font-size="33" text-anchor="middle">6-15</text>
<text x="1491.2" y="1043.9" font-size="33" text-anchor="middle">7-30</text>
<text x="1673.9" y="1043.9" font-size="33" text-anchor="middle">9-15</text>
<text x="1103.45" y="697" font-size="28" text-anchor="middle">b</text>
<text x="1148.95" y="701.3" font-size="28" text-anchor="middle">c</text>
<text x="1286.25" y="712.6" font-size="28" text-anchor="middle">c</text>
<text x="1331.85" y="686.5" font-size="28" text-anchor="middle">b</text>
<text x="1468.6" y="738.6" font-size="28" text-anchor="middle">d</text>
<text x="1514.15" y="678" font-size="28" text-anchor="middle">a</text>
<text x="1650.75" y="694.5" font-size="28" text-anchor="middle">a</text>
<text x="1696.7" y="686" font-size="28" text-anchor="middle">b</text>
<text x="1116.2" y="592.6" font-size="26.5" text-anchor="start">T</text>
<text x="1116.2" y="628.35" font-size="26.5" text-anchor="start">S</text>
<text x="958" y="782.9" font-size="44.6" text-anchor="middle" transform="rotate(-90 958 782.9)" dy="0">ABA content (ng/g)</text>
<text x="906.6" y="574.6" font-size="66" text-anchor="start">D</text>
<text x="481.8" y="1087.7" font-size="44" text-anchor="middle">Time</text>
<text x="1400" y="1087.7" font-size="44" text-anchor="middle">Time</text>
</g></svg></body></html>
